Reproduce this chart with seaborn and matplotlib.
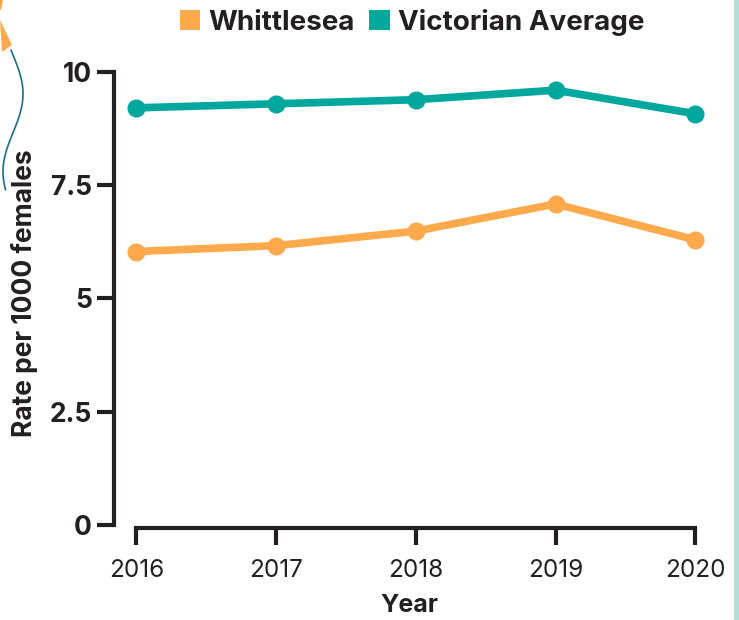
import numpy as np
import pandas as pd
import matplotlib
matplotlib.use("Agg")
import matplotlib.pyplot as plt
from matplotlib.lines import Line2D
from matplotlib.patches import Polygon, Patch
import seaborn as sns

# data
years = [2016, 2017, 2018, 2019, 2020]
whittlesea = [6.03, 6.16, 6.48, 7.08, 6.29]
victorian_avg = [9.20, 9.29, 9.38, 9.59, 9.07]
series_names = ["Whittlesea", "Victorian Average"]
y_ticks = [0, 2.5, 5, 7.5, 10]
y_tick_labels = ["0", "2.5", "5", "7.5", "10"]

ORANGE = "#FFA94D"
TEAL = "#00A79D"
DARK = "#231F20"

df = pd.DataFrame({
    "Year": years * 2,
    "Rate": whittlesea + victorian_avg,
    "Series": [series_names[0]] * len(years) + [series_names[1]] * len(years),
})

sns.set_theme(style="white")
plt.rcParams["font.family"] = ["Inter", "DejaVu Sans"]

W, H = 739, 620
fig = plt.figure(figsize=(W / 100, H / 100), dpi=100)
ax = fig.add_axes([114 / W, 1 - 528 / H, (705 - 114) / W, (528 - 58) / H])

sns.lineplot(data=df, x="Year", y="Rate", hue="Series",
             palette={series_names[0]: ORANGE, series_names[1]: TEAL},
             marker="o", markersize=13, markeredgewidth=0, linewidth=5.5,
             legend=False, ax=ax)

ax.set_xlim(2015.84, 2020.07)
ax.set_ylim(-0.07, 10.3)
ax.set_xticks(years)
ax.set_xticklabels([str(y) for y in years], fontsize=17.5, color=DARK)
ax.set_yticks(y_ticks)
ax.set_yticklabels(y_tick_labels, fontsize=19, fontweight="bold", color=DARK)

for side in ["top", "right"]:
    ax.spines[side].set_visible(False)
for side in ["left", "bottom"]:
    ax.spines[side].set_linewidth(3)
    ax.spines[side].set_color(DARK)
ax.spines["left"].set_bounds(0, 10)
ax.spines["bottom"].set_bounds(2016, 2020)
ax.tick_params(axis="both", length=12, width=3, color=DARK, direction="out",
               left=True, bottom=True)
ax.tick_params(axis="y", pad=4)
ax.tick_params(axis="x", pad=10)

ax.set_xlabel("Year", fontsize=18, fontweight="bold", color=DARK, labelpad=9)
ax.set_ylabel("Rate per 1000 females", fontsize=19, fontweight="bold",
              color=DARK, labelpad=8)

handles = [Patch(facecolor=ORANGE, edgecolor="none"),
           Patch(facecolor=TEAL, edgecolor="none")]
fig.legend(handles, series_names, loc="center", bbox_to_anchor=(412 / W, 1 - 22 / H),
           ncol=2, frameon=False, prop={"weight": "bold", "size": 20},
           handlelength=0.75, handleheight=0.75, handletextpad=0.3,
           columnspacing=0.5)
for t in fig.legends[0].get_texts():
    t.set_color(DARK)

# decorative elements of the infographic
t = np.linspace(0, 1, 80)
wx = (13 + 10 * np.sin(2 * np.pi * 0.9 * t - 0.2)) / W
wy = 1 - (50 + 140 * t) / H
fig.add_artist(Line2D(wx, wy, color="#1B6F80", linewidth=1.2, transform=fig.transFigure))
fig.add_artist(Polygon([(0, 1), (3 / W, 1), (1 / W, 1 - 10 / H), (0, 1 - 10 / H)],
                       closed=True, facecolor=ORANGE, edgecolor="none",
                       transform=fig.transFigure))
fig.add_artist(Polygon([(0, 1 - 20 / H), (12 / W, 1 - 45 / H), (2 / W, 1 - 52 / H)],
                       closed=True, facecolor=ORANGE, edgecolor="none",
                       transform=fig.transFigure))
fig.add_artist(Line2D([736 / W, 736 / W], [0, 1], color="#B3DED6", linewidth=3.5,
                      transform=fig.transFigure))

fig.savefig("out.png", dpi=100)
